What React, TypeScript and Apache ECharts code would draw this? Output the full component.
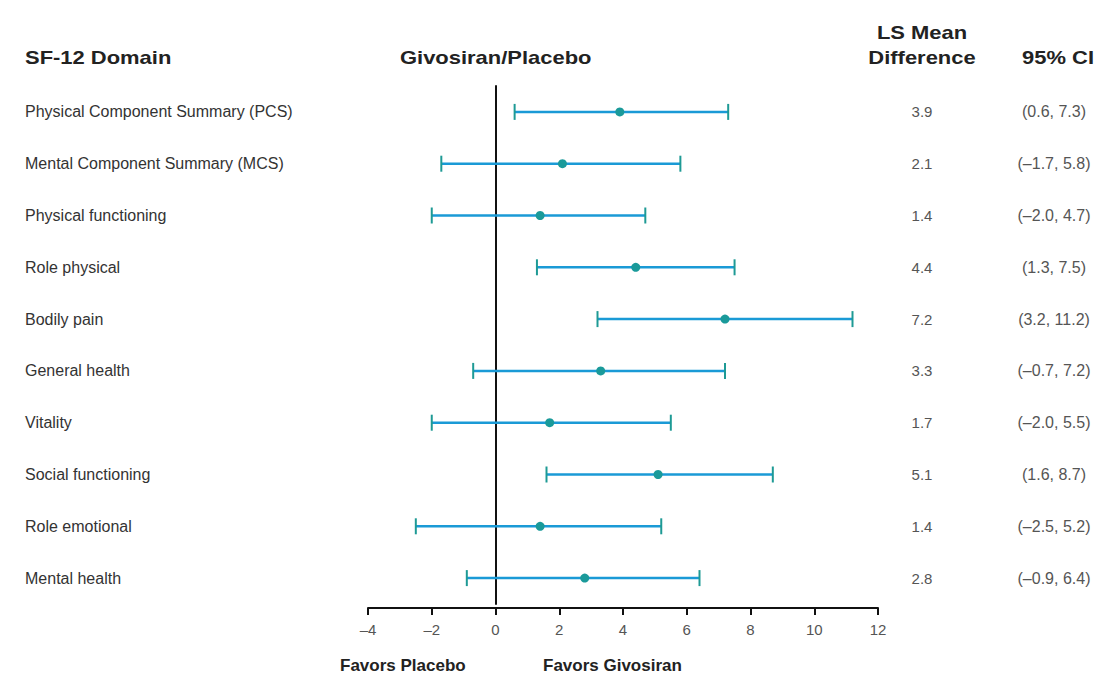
import React, { useEffect, useRef } from "react";
import * as echarts from "echarts";

const domains = [
  "Physical Component Summary (PCS)",
  "Mental Component Summary (MCS)",
  "Physical functioning",
  "Role physical",
  "Bodily pain",
  "General health",
  "Vitality",
  "Social functioning",
  "Role emotional",
  "Mental health",
];
const lsMean = [3.9, 2.1, 1.4, 4.4, 7.2, 3.3, 1.7, 5.1, 1.4, 2.8];
const ciLow = [0.6, -1.7, -2.0, 1.3, 3.2, -0.7, -2.0, 1.6, -2.5, -0.9];
const ciHigh = [7.3, 5.8, 4.7, 7.5, 11.2, 7.2, 5.5, 8.7, 5.2, 6.4];
const xTicks = [-4, -2, 0, 2, 4, 6, 8, 10, 12];

const fmt = (v: number) => (v < 0 ? "\u2013" + Math.abs(v).toFixed(1) : v.toFixed(1));

const FONT = "'Liberation Sans', Arial, sans-serif";
const HEAD = "bold 18px " + FONT;
const SX = 1.22;

export default function App() {
  const ref = useRef<HTMLDivElement>(null);
  useEffect(() => {
    if (!ref.current) return;
    const chart = echarts.init(ref.current, null, { renderer: "svg" });
    const data = domains.map((_, i) => [i, lsMean[i], ciLow[i], ciHigh[i]]);
    chart.setOption({
      animation: false,
      backgroundColor: "#ffffff",
      textStyle: { fontFamily: FONT },
      grid: { left: 368, right: 228, top: 86, height: 518 },
      xAxis: {
        type: "value",
        min: xTicks[0],
        max: xTicks[xTicks.length - 1],
        interval: 2,
        offset: 4,
        axisLine: { show: true, onZero: false, lineStyle: { color: "#111", width: 2 } },
        axisTick: { show: true, inside: false, length: 7, lineStyle: { color: "#111", width: 2 } },
        axisLabel: {
          color: "#555",
          fontSize: 15,
          margin: 14,
          fontFamily: FONT,
          formatter: (v: number) => (v < 0 ? "\u2013" + Math.abs(v) : String(v)),
        },
        splitLine: { show: false },
      },
      yAxis: [
        {
          type: "category",
          data: domains,
          inverse: true,
          position: "left",
          axisLine: { show: true, onZero: true, lineStyle: { color: "#111", width: 2 } },
          axisTick: { show: false },
          axisLabel: { show: false },
        },
        {
          type: "category",
          data: domains,
          inverse: true,
          position: "left",
          offset: 0,
          axisLine: { show: false, onZero: false },
          axisTick: { show: false },
          axisLabel: {
            show: true,
            align: "left",
            margin: 343,
            color: "#333",
            fontSize: 16,
            fontFamily: FONT,
          },
        },
        {
          type: "category",
          data: domains,
          inverse: true,
          position: "right",
          offset: 0,
          axisLine: { show: false, onZero: false },
          axisTick: { show: false },
          axisLabel: {
            show: true,
            align: "center",
            margin: 44,
            color: "#555",
            fontSize: 15,
            fontFamily: FONT,
            formatter: (_: string, i: number) => lsMean[i].toFixed(1),
          },
        },
        {
          type: "category",
          data: domains,
          inverse: true,
          position: "right",
          offset: 0,
          axisLine: { show: false, onZero: false },
          axisTick: { show: false },
          axisLabel: {
            show: true,
            align: "center",
            margin: 176,
            color: "#555",
            fontSize: 16,
            fontFamily: FONT,
            formatter: (_: string, i: number) => "(" + fmt(ciLow[i]) + ", " + fmt(ciHigh[i]) + ")",
          },
        },
      ],
      series: [
        {
          type: "custom",
          xAxisIndex: 0,
          yAxisIndex: 0,
          data,
          encode: { x: [1, 2, 3], y: 0 },
          renderItem: (params: any, api: any) => {
            const yi = api.value(0);
            const mid = api.coord([api.value(1), yi]);
            const lo = api.coord([api.value(2), yi]);
            const hi = api.coord([api.value(3), yi]);
            const cap = 8;
            return {
              type: "group",
              children: [
                {
                  type: "line",
                  shape: { x1: lo[0], y1: lo[1], x2: hi[0], y2: hi[1] },
                  style: { stroke: "#1a9ad6", lineWidth: 2.5 },
                },
                {
                  type: "line",
                  shape: { x1: lo[0], y1: lo[1] - cap, x2: lo[0], y2: lo[1] + cap },
                  style: { stroke: "#1e9a95", lineWidth: 2 },
                },
                {
                  type: "line",
                  shape: { x1: hi[0], y1: hi[1] - cap, x2: hi[0], y2: hi[1] + cap },
                  style: { stroke: "#1e9a95", lineWidth: 2 },
                },
                {
                  type: "circle",
                  shape: { cx: mid[0], cy: mid[1], r: 4.5 },
                  style: { fill: "#1a9a9a" },
                },
              ],
            };
          },
        },
      ],
      graphic: [
        {
          type: "text",
          x: 25,
          y: 58,
          scaleX: SX,
          style: { text: "SF-12 Domain", font: HEAD, fill: "#222", verticalAlign: "middle" },
        },
        {
          type: "text",
          x: 400,
          y: 58,
          scaleX: SX,
          style: { text: "Givosiran/Placebo", font: HEAD, fill: "#222", verticalAlign: "middle" },
        },
        {
          type: "text",
          x: 922,
          y: 45,
          scaleX: SX,
          style: {
            text: "LS Mean\nDifference",
            font: HEAD,
            fill: "#222",
            align: "center",
            verticalAlign: "middle",
            lineHeight: 25,
          },
        },
        {
          type: "text",
          x: 1058,
          y: 58,
          scaleX: SX,
          style: { text: "95% CI", font: HEAD, fill: "#222", align: "center", verticalAlign: "middle" },
        },
        {
          type: "text",
          x: 340,
          y: 665,
          style: { text: "Favors Placebo", font: "bold 17px " + FONT, fill: "#222", verticalAlign: "middle" },
        },
        {
          type: "text",
          x: 543,
          y: 665,
          style: { text: "Favors Givosiran", font: "bold 17px " + FONT, fill: "#222", verticalAlign: "middle" },
        },
      ],
    });
    return () => chart.dispose();
  }, []);
  return <div ref={ref} style={{ width: 1106, height: 682, margin: -8 }} />;
}
